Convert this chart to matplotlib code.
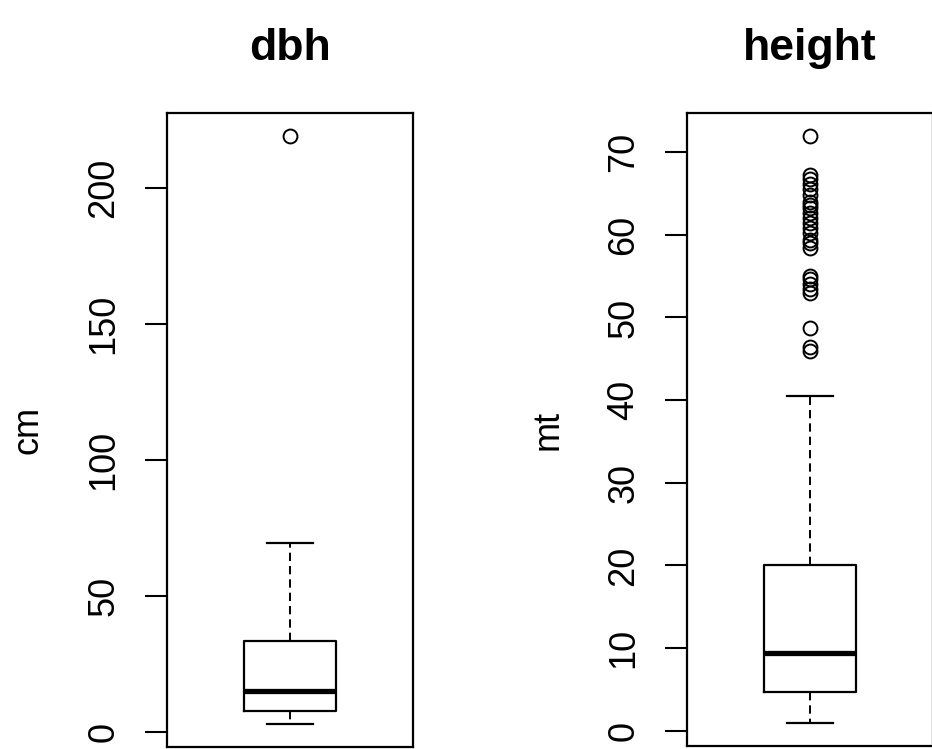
import matplotlib
matplotlib.use("Agg")
import matplotlib.pyplot as plt

plt.rcParams['font.family'] = ['Liberation Sans', 'DejaVu Sans']
plt.rcParams['lines.scale_dashes'] = False

# boxplot summaries
dbh_stats = dict(whislo=3.1, q1=7.6, med=15.1, q3=33.3, whishi=69.4)
dbh_fliers = [219.0]
height_stats = dict(whislo=1.0, q1=4.75, med=9.4, q3=20.1, whishi=40.5)
height_fliers = [71.9, 67.2, 66.8, 66.2, 65.6, 64.8, 64.0, 63.6, 63.2, 62.6,
                 62.0, 61.4, 60.8, 60.2, 59.4, 59.0, 58.4,
                 55.0, 54.6, 54.0, 53.5, 53.0, 48.7, 46.4, 46.0]

dbh_ticks = [0, 50, 100, 150, 200]
height_ticks = [0, 10, 20, 30, 40, 50, 60, 70]

titles = ["dbh", "height"]
ylabels = ["cm", "mt"]

W, H = 932, 749
fig = plt.figure(figsize=(W / 100, H / 100), dpi=100)

panels = [
    (167, 113, 246, 634, dbh_stats, dbh_fliers, dbh_ticks),
    (687, 113, 246, 633, height_stats, height_fliers, height_ticks),
]

for i, (x0, top, w, h, st, fl, ticks) in enumerate(panels):
    ax = fig.add_axes([x0 / W, (H - top - h) / H, w / W, h / H])
    s = dict(st)
    s['fliers'] = fl
    ax.bxp([s], positions=[1], widths=0.4, capwidths=0.2, patch_artist=False,
           boxprops=dict(color='black', linewidth=1.6),
           medianprops=dict(color='black', linewidth=3.8, solid_capstyle='butt'),
           whiskerprops=dict(color='black', linewidth=1.4, linestyle=(0, (6, 3.6))),
           capprops=dict(color='black', linewidth=1.6),
           flierprops=dict(marker='o', markersize=10, markerfacecolor='none',
                           markeredgecolor='black', markeredgewidth=1.4))
    vals = [st['whislo'], st['whishi']] + fl
    lo, hi = min(vals), max(vals)
    pad = (hi - lo) * 0.04
    ax.set_ylim(lo - pad, hi + pad)
    ax.set_xlim(0.46, 1.54)
    ax.set_xticks([])
    ax.set_yticks(ticks)
    ax.set_yticklabels([str(t) for t in ticks], rotation=90, va='center',
                       fontsize=26)
    ax.tick_params(axis='y', length=16, width=1.5, pad=17)
    for sp in ax.spines.values():
        sp.set_linewidth(1.6)
    ax.set_title(titles[i], fontsize=32, fontweight='bold', pad=38)
    ax.set_ylabel(ylabels[i], fontsize=26, labelpad=29)

fig.savefig("out.png", dpi=100, facecolor='white')
